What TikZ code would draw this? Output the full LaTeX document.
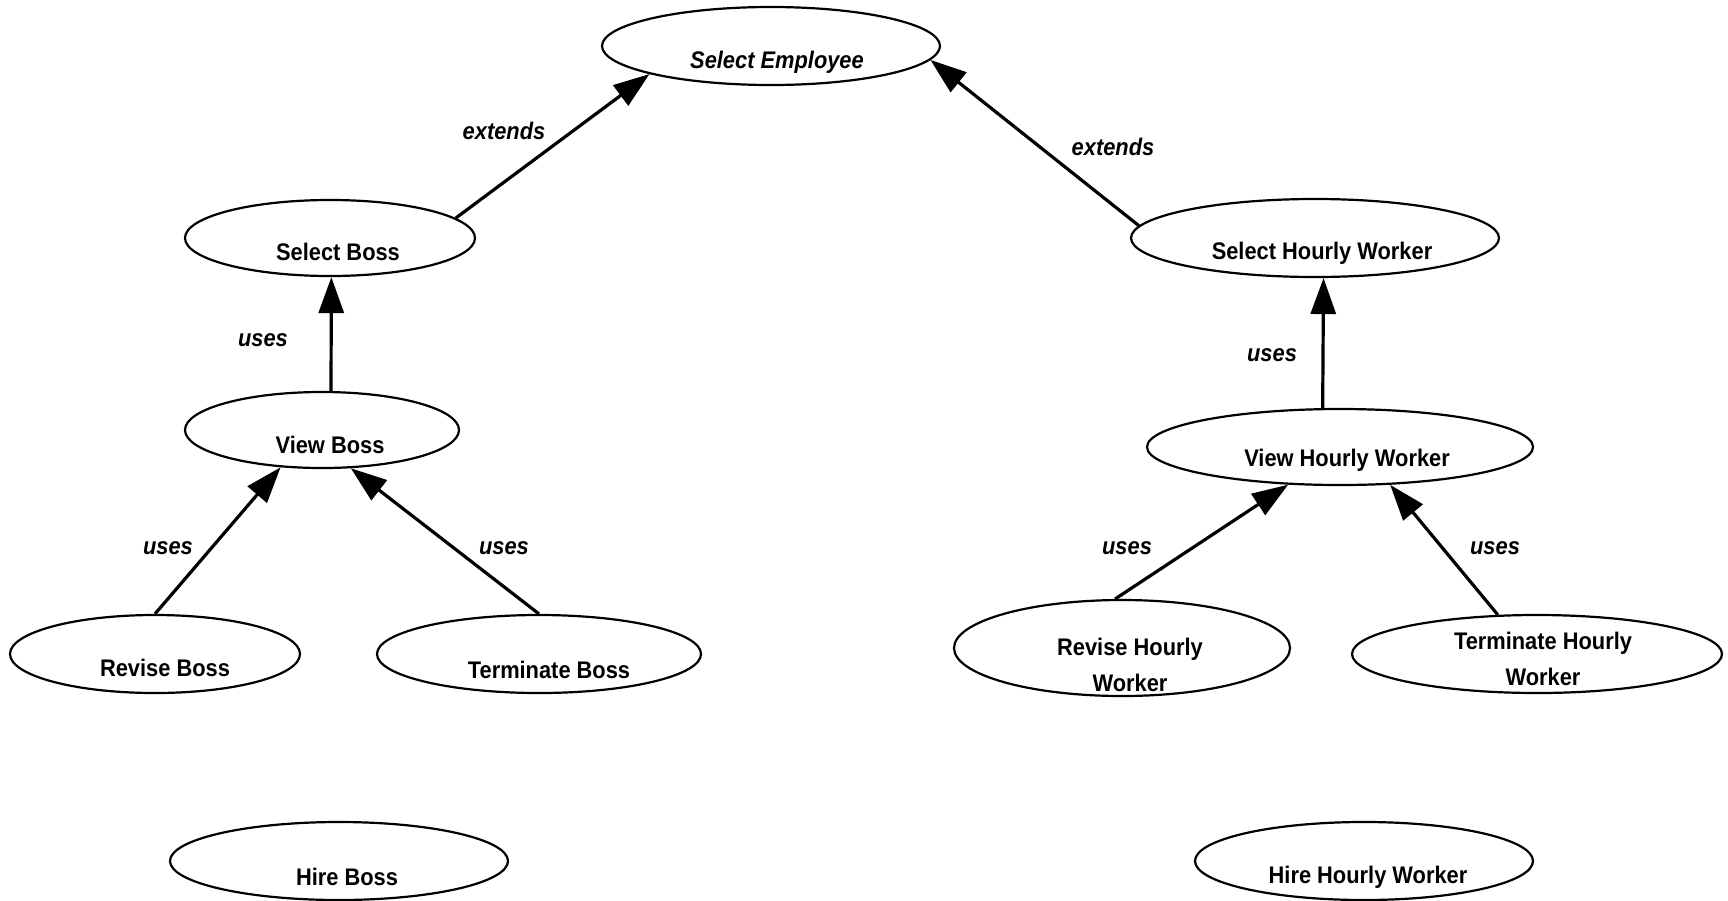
\documentclass[tikz,border=0pt]{standalone}
\usepackage{fontspec}
\setmainfont{Liberation Sans}[FakeStretch=0.91]
\usetikzlibrary{arrows.meta, shapes.geometric}
\tikzset{
    usecase/.style={draw, ellipse, line width=1.1pt, inner sep=0pt},
    caption/.style={font=\fontsize{12}{18}\selectfont\bfseries, align=center},
    stereotype/.style={font=\fontsize{12}{14}\selectfont\bfseries\itshape},
    rel/.style={-{Triangle[length=18pt, width=12.5pt]}, line width=1.6pt},
}

\begin{document}
\begin{tikzpicture}[x=0.5pt, y=-0.5pt]
    \useasboundingbox (0,0) rectangle (1728,900);

    % use cases
    \node[usecase, minimum width=169pt, minimum height=39pt] (se) at (771,46)  {};
    \node[usecase, minimum width=145pt, minimum height=38pt] (sb) at (330,238) {};
    \node[usecase, minimum width=137pt, minimum height=38pt] (vb) at (322,430) {};
    \node[usecase, minimum width=145pt, minimum height=39pt] (rb) at (155,654) {};
    \node[usecase, minimum width=162pt, minimum height=39pt] (tb) at (539,654) {};
    \node[usecase, minimum width=169pt, minimum height=39pt] (hb) at (339,861) {};
    \node[usecase, minimum width=184pt, minimum height=39pt] (sh) at (1315,238) {};
    \node[usecase, minimum width=193pt, minimum height=38pt] (vh) at (1340,447) {};
    \node[usecase, minimum width=168pt, minimum height=48pt] (rh) at (1122,648) {};
    \node[usecase, minimum width=185pt, minimum height=39pt] (th) at (1537,654) {};
    \node[usecase, minimum width=169pt, minimum height=39pt] (hh) at (1364,861) {};

    % names, set low in the ellipse
    \node[caption, font=\fontsize{12}{18}\selectfont\bfseries\itshape] (se-t) at ([xshift=3pt, yshift=-8pt]se) {Select Employee};
    \node[caption] (sb-t) at ([xshift=4pt, yshift=-7pt]sb) {Select Boss};
    \node[caption] (vb-t) at ([xshift=4pt, yshift=-7.5pt]vb) {View Boss};
    \node[caption] (rb-t) at ([xshift=5pt, yshift=-7pt]rb) {Revise Boss};
    \node[caption] (tb-t) at ([xshift=5pt, yshift=-8pt]tb) {Terminate Boss};
    \node[caption] (hb-t) at ([xshift=4pt, yshift=-8pt]hb) {Hire Boss};
    \node[caption] (sh-t) at ([xshift=3.5pt, yshift=-7.5pt]sh) {Select Hourly Worker};
    \node[caption] (vh-t) at ([xshift=3.5pt, yshift=-6.5pt]vh) {View Hourly Worker};
    \node[caption] (rh-t) at ([xshift=4pt, yshift=-8.5pt]rh) {Revise Hourly\\Worker};
    \node[caption] (th-t) at ([xshift=3pt, yshift=-2.5pt]th) {Terminate Hourly\\Worker};
    \node[caption] (hh-t) at ([xshift=2pt, yshift=-8pt]hh) {Hire Hourly Worker};

    % relations
    \draw[rel] (sb.9)     -- (se.193);
    \draw[rel] (sh.176)   -- (se.-5);
    \draw[rel] (vb.77)    -- (sb.-88);
    \draw[rel] (vh.114)   -- (sh.-78);
    \draw[rel] (rb.north) -- (vb.222);
    \draw[rel] (tb.north) -- (vb.-53);
    \draw[rel] (rh.98)    -- (vh.216);
    \draw[rel] (th.135)   -- (vh.-37);

    \node[stereotype] (ext-b) at (504,131)  {extends};
    \node[stereotype] (ext-h) at (1113,147) {extends};
    \node[stereotype] (use-sb) at (263,340)  {uses};
    \node[stereotype] (use-sh) at (1272,355) {uses};
    \node[stereotype] (use-rb) at (168,548)  {uses};
    \node[stereotype] (use-tb) at (504,548)  {uses};
    \node[stereotype] (use-rh) at (1127,548) {uses};
    \node[stereotype] (use-th) at (1495,548) {uses};
\end{tikzpicture}
\end{document}
